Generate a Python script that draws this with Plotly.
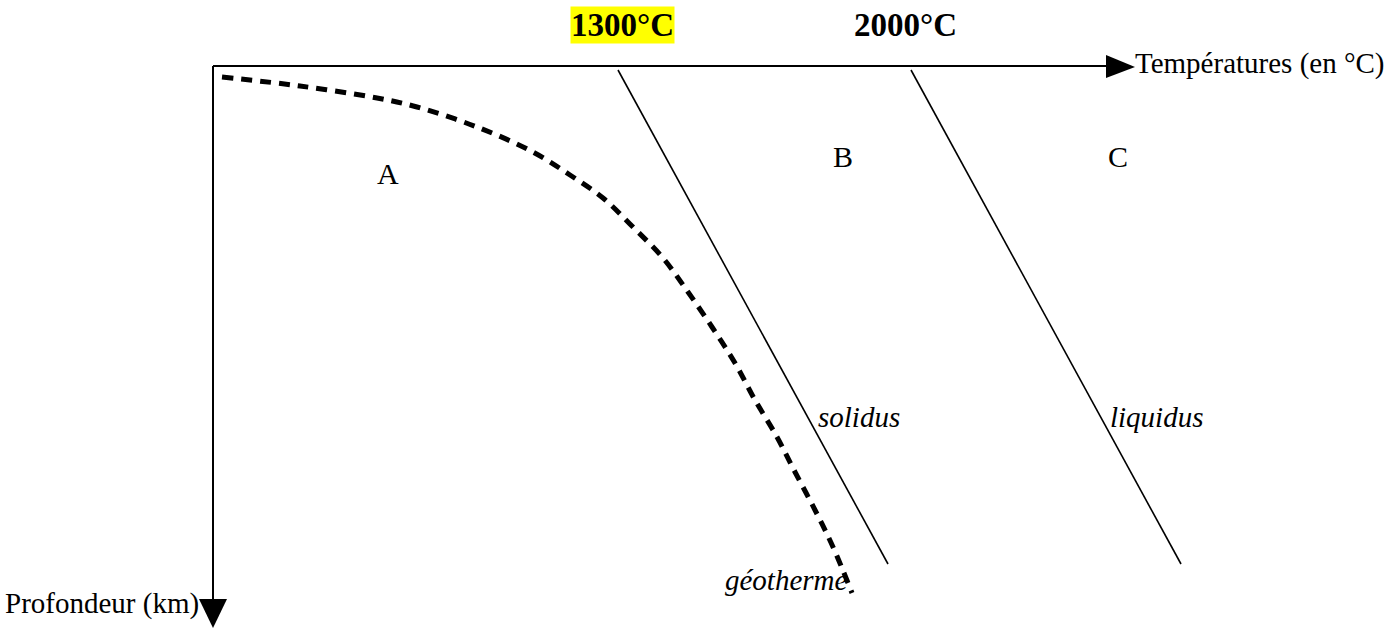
import plotly.graph_objects as go

# ---- data (schematic diagram, chart units = temperature-like x, depth-like y) ----
geotherm_x = [222, 300, 377, 417, 477, 533, 570, 603, 633, 663, 688, 712, 735, 755, 777, 795, 815, 833, 852]
geotherm_y = [77, 86, 98, 107, 127, 152, 175, 198, 227, 258, 292, 327, 363, 400, 437, 472, 510, 547, 593]

solidus_x = [618, 888]
solidus_y = [70, 564]
liquidus_x = [911, 1181]
liquidus_y = [70, 564]

temp_axis_x = [213, 1108]
temp_axis_y = [66, 66]
depth_axis_x = [213, 213]
depth_axis_y = [66, 600]

tick_labels = ["1300°C", "2000°C"]
tick_x = [622, 905]
tick_y = [25, 25]

zone_labels = ["A", "B", "C"]
zone_x = [388, 843, 1118]
zone_y = [173, 156, 156]

curve_labels = ["solidus", "liquidus", "géotherme"]
curve_lab_x = [816, 1108, 723]
curve_lab_y = [417, 417, 580]

FONT = "Liberation Serif"

fig = go.Figure()

fig.add_trace(go.Scatter(x=temp_axis_x, y=temp_axis_y, mode="lines",
                         line=dict(color="black", width=2), hoverinfo="skip"))
fig.add_trace(go.Scatter(x=depth_axis_x, y=depth_axis_y, mode="lines",
                         line=dict(color="black", width=2), hoverinfo="skip"))

fig.add_trace(go.Scatter(x=solidus_x, y=solidus_y, mode="lines",
                         line=dict(color="black", width=1.6), hoverinfo="skip"))
fig.add_trace(go.Scatter(x=liquidus_x, y=liquidus_y, mode="lines",
                         line=dict(color="black", width=1.6), hoverinfo="skip"))
fig.add_trace(go.Scatter(x=geotherm_x, y=geotherm_y, mode="lines",
                         line=dict(color="black", width=5, dash="11px,8px", shape="spline"),
                         hoverinfo="skip"))

# arrow heads at axis ends
hx, hy = temp_axis_x[1], temp_axis_y[1]
vx, vy = depth_axis_x[1], depth_axis_y[1]
shapes = [
    dict(type="path", xref="x", yref="y", fillcolor="black", line=dict(width=0),
         path=f"M {hx - 2} {hy - 11} L {hx + 27} {hy + 1} L {hx - 2} {hy + 12} Z"),
    dict(type="path", xref="x", yref="y", fillcolor="black", line=dict(width=0),
         path=f"M {vx - 14} {vy - 1} L {vx + 14} {vy - 1} L {vx} {vy + 28} Z"),
]

ann = []
for i, t in enumerate(tick_labels):
    ann.append(dict(x=tick_x[i], y=tick_y[i], text=f"<b>{t}</b>", showarrow=False,
                    xref="x", yref="y", font=dict(family=FONT, size=33, color="black"),
                    bgcolor="#FFFF00" if i == 0 else "rgba(0,0,0,0)", borderpad=0))
for i, t in enumerate(zone_labels):
    ann.append(dict(x=zone_x[i], y=zone_y[i], text=t, showarrow=False, xref="x", yref="y",
                    font=dict(family=FONT, size=30, color="black")))
for i, t in enumerate(curve_labels):
    ann.append(dict(x=curve_lab_x[i], y=curve_lab_y[i], text=f"<i>{t}</i>", showarrow=False,
                    xref="x", yref="y", xanchor="left",
                    font=dict(family=FONT, size=29, color="black")))
ann.append(dict(x=1133, y=63, text="Températures (en °C)", showarrow=False, xref="x", yref="y",
                xanchor="left", font=dict(family=FONT, size=29, color="black")))
ann.append(dict(x=201, y=603, text="Profondeur (km)", showarrow=False, xref="x", yref="y",
                xanchor="right", font=dict(family=FONT, size=29, color="black")))

fig.update_layout(
    width=1400, height=632,
    margin=dict(l=0, r=0, t=0, b=0),
    paper_bgcolor="white", plot_bgcolor="white",
    showlegend=False,
    xaxis=dict(range=[0, 1400], visible=False, fixedrange=True),
    yaxis=dict(range=[632, 0], visible=False, fixedrange=True),
    annotations=ann,
    shapes=shapes,
)

fig.write_html("out.html", post_script="document.body.style.margin='0';document.body.style.overflow='hidden';",
               config={"displayModeBar": False})
